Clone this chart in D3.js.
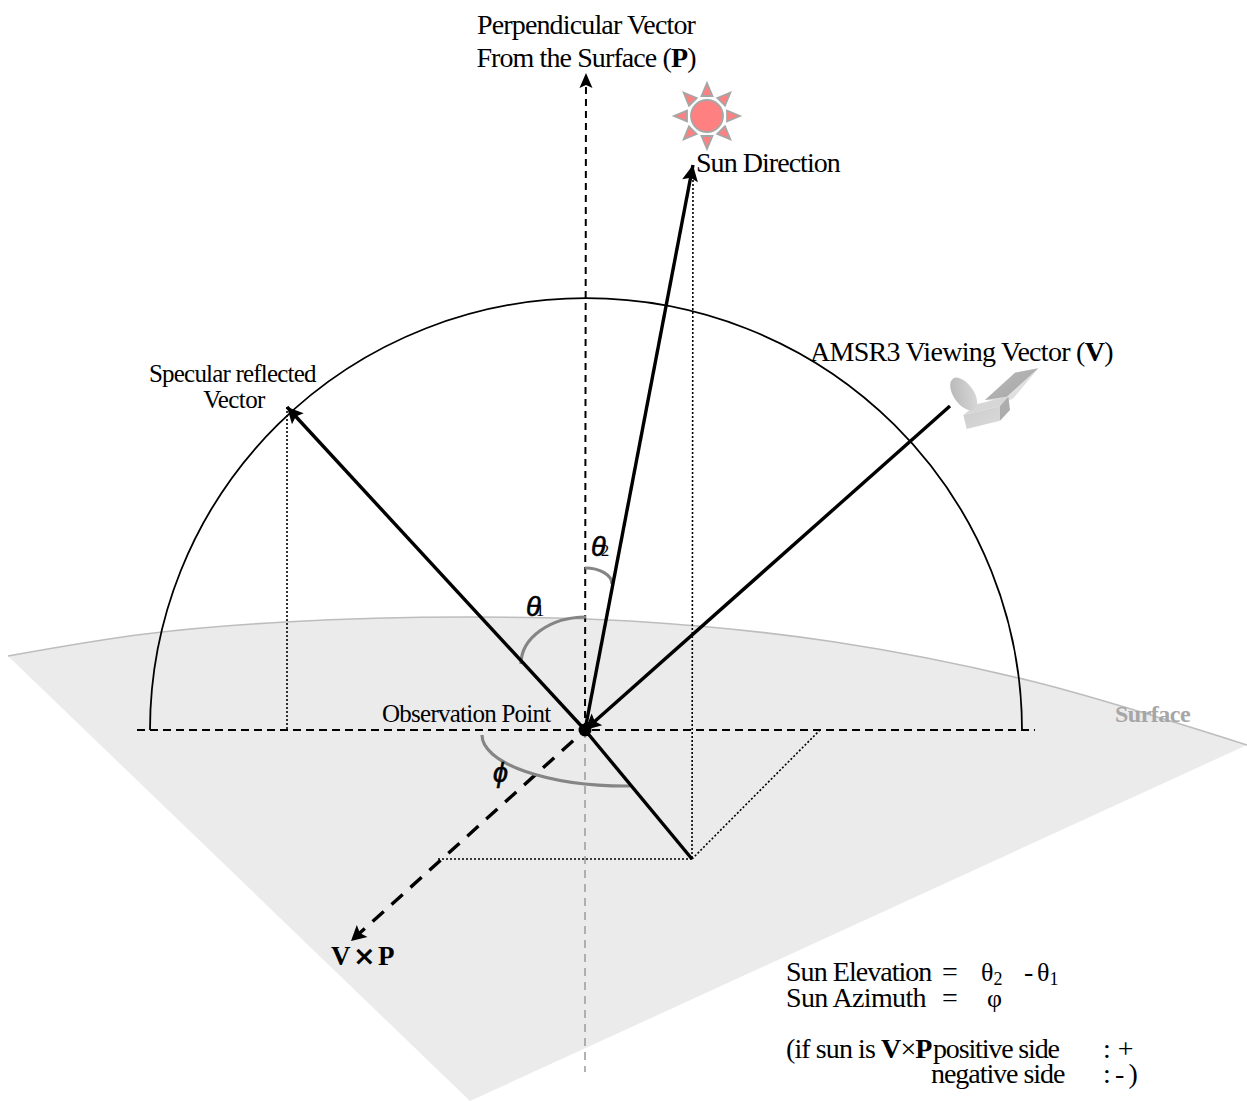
<!DOCTYPE html>
<html lang="en">
<head>
<meta charset="UTF-8">
<title>Sun Elevation and Azimuth Geometry</title>
<script src="https://d3js.org/d3.v7.min.js"></script>
<style>
  html, body { margin: 0; padding: 0; background: #fff; }
  svg { display: block; }
  text { font-family: "Liberation Serif", serif; fill: #000; }
</style>
</head>
<body>
<div id="chart"></div>
<script>
// all diagram values are offsets from the observation point, y up
const surfaceTop = [[-577, 74], [-440, 96], [-300, 108], [-115, 113], [60, 108], [250, 88], [450, 48], [662, -15]];
const surfaceBottom = [[662, -15], [-115, -371], [-577, 74]];
const domeEnds = [[-435, 0], [437, 0]];
const domeRadii = [436, 432];
const solidVectors = [
  { from: [0, 0], to: [108, 565], arrow: true },
  { from: [0, 0], to: [-298, 323], arrow: true },
  { from: [365, 324], to: [0, 0], arrow: true },
  { from: [0, 0], to: [107, -129], arrow: false }
];
const dashedVectors = [
  { from: [0, 0], to: [1, 657], width: 2, color: "#000", dash: "7 5", offset: 0, arrow: true },
  { from: [0, 0], to: [-234, -211], width: 3.4, color: "#000", dash: "15 10.5", offset: -16, arrow: true },
  { from: [0, 0], to: [0, -342], width: 1.6, color: "#a0a0a0", dash: "8 6", offset: 0, arrow: false },
  { from: [-448, 0], to: [450, 0], width: 2, color: "#000", dash: "8 5", offset: 0, arrow: false }
];
const dottedLines = [
  [[108, 550], [107, -129]],
  [[-298, 323], [-298, 0]],
  [[107, -129], [235, 0]],
  [[-147, -129], [107, -129]]
];
const angleArcs = [
  { from: [0, 162], to: [27, 146], rx: 27, ry: 16, sweep: 1 },
  { from: [1, 113], to: [-64, 66], rx: 65, ry: 47, sweep: 0 },
  { from: [-103, -5], to: [45, -56], rx: 145, ry: 51, sweep: 0 }
];
const sunRays = [0, 45, 90, 135, 180, 225, 270, 315];
const labels = [
  { text: "Perpendicular Vector", at: [1, 696], size: 28, anchor: "middle", spacing: -0.85 },
  { text: "Sun Direction", at: [111, 558], size: 28, anchor: "start", spacing: -0.96 },
  { text: "Specular reflected", at: [-436, 348], size: 25, anchor: "start", spacing: -0.8 },
  { text: "Vector", at: [-351, 322], size: 25, anchor: "middle", spacing: -0.6 },
  { text: "Observation Point", at: [-203, 8], size: 25, anchor: "start", spacing: -0.75 },
  { text: "Sun Elevation", at: [201, -251], size: 28, anchor: "start", spacing: -0.96 },
  { text: "=", at: [357, -251], size: 28, anchor: "start", spacing: 0 },
  { text: "Sun Azimuth", at: [201, -277], size: 28, anchor: "start", spacing: -0.64 },
  { text: "=", at: [357, -277], size: 28, anchor: "start", spacing: 0 },
  { text: "φ", at: [402, -277], size: 26, anchor: "start", spacing: 0 },
  { text: "negative side", at: [346, -353], size: 28, anchor: "start", spacing: -1.05 },
  { text: ": -  )", at: [518, -353], size: 28, anchor: "start", spacing: -1.4 },
  { text: "positive side", at: [348, -328], size: 28, anchor: "start", spacing: -1.15 },
  { text: ": +", at: [518, -328], size: 28, anchor: "start", spacing: 0 }
];
const panelWidth = 1247, panelHeight = 1101;

const x = d3.scaleLinear().domain([-585, 662]).range([0, panelWidth]);
const y = d3.scaleLinear().domain([730, -371]).range([0, panelHeight]);
const pt = d => [x(d[0]), y(d[1])];

const svg = d3.select("#chart").append("svg")
  .attr("width", panelWidth).attr("height", panelHeight);

const defs = svg.append("defs");
function gradient(id, c1, c2) {
  const g = defs.append("linearGradient").attr("id", id)
    .attr("x1", 0).attr("y1", 0).attr("x2", 1).attr("y2", 1);
  g.append("stop").attr("offset", 0).attr("stop-color", c1);
  g.append("stop").attr("offset", 1).attr("stop-color", c2);
}
gradient("dish", "#b4b4b4", "#dcdcdc");
gradient("body", "#cccccc", "#dadada");
gradient("panel", "#bcbcbc", "#a4a4a4");

// surface
const curve = d3.line().x(d => x(d[0])).y(d => y(d[1])).curve(d3.curveCatmullRom);
svg.append("path")
  .attr("d", curve(surfaceTop) + surfaceBottom.slice(1).map(d => "L" + pt(d).join(",")).join("") + "Z")
  .attr("fill", "#ebebeb");
svg.append("path").attr("d", curve(surfaceTop))
  .attr("fill", "none").attr("stroke", "#bdbdbd").attr("stroke-width", 1.6);

// hemisphere
const [d0, d1] = domeEnds.map(pt);
svg.append("path")
  .attr("d", `M${d0} A${domeRadii[0]},${domeRadii[1]} 0 0 1 ${d1}`)
  .attr("fill", "none").attr("stroke", "#000").attr("stroke-width", 1.8);

// dotted construction lines
svg.selectAll(".dotted").data(dottedLines).enter().append("line")
  .attr("x1", d => x(d[0][0])).attr("y1", d => y(d[0][1]))
  .attr("x2", d => x(d[1][0])).attr("y2", d => y(d[1][1]))
  .attr("stroke", "#000").attr("stroke-width", 1.6).attr("stroke-dasharray", "2 2");

function arrowHead(v, len, half) {
  const a = pt(v.from), b = pt(v.to);
  const dx = b[0] - a[0], dy = b[1] - a[1], n = Math.hypot(dx, dy);
  const ux = dx / n, uy = dy / n;
  const bx = b[0] - ux * len, by = b[1] - uy * len;
  return [b, [bx - uy * half, by + ux * half], [bx + ux * 3, by + uy * 3], [bx + uy * half, by - ux * half]].join(" ");
}

// dashed vectors
svg.selectAll(".dashed").data(dashedVectors).enter().append("line")
  .attr("x1", d => x(d.from[0])).attr("y1", d => y(d.from[1]))
  .attr("x2", d => x(d.to[0])).attr("y2", d => y(d.to[1]))
  .attr("stroke", d => d.color).attr("stroke-width", d => d.width)
  .attr("stroke-dasharray", d => d.dash).attr("stroke-dashoffset", d => d.offset);
svg.selectAll(".dashedHead").data(dashedVectors.filter(d => d.arrow)).enter().append("polygon")
  .attr("points", d => arrowHead(d, 15, d.width > 3 ? 8 : 6.5)).attr("fill", "#000");

// angle arcs
svg.selectAll(".arc").data(angleArcs).enter().append("path")
  .attr("d", d => `M${pt(d.from)} A${d.rx},${d.ry} 0 0 ${d.sweep} ${pt(d.to)}`)
  .attr("fill", "none").attr("stroke", "#858585").attr("stroke-width", 3.2);

// solid vectors
svg.selectAll(".solid").data(solidVectors).enter().append("line")
  .attr("x1", d => x(d.from[0])).attr("y1", d => y(d.from[1]))
  .attr("x2", d => x(d.to[0])).attr("y2", d => y(d.to[1]))
  .attr("stroke", "#000").attr("stroke-width", 3.4);
svg.selectAll(".solidHead").data(solidVectors.filter(d => d.arrow)).enter().append("polygon")
  .attr("points", d => arrowHead(d, 16, 8)).attr("fill", "#000");
svg.append("circle").attr("cx", x(0)).attr("cy", y(0)).attr("r", 6.5).attr("fill", "#000");

// sun
const sun = svg.append("g").attr("transform", `translate(${x(122)},${y(614)})`);
sun.selectAll("path").data(sunRays).enter().append("path")
  .attr("d", "M-5.5,-20 L5.5,-20 L0,-33 Z")
  .attr("transform", d => `rotate(${d})`)
  .attr("fill", "#ff8080").attr("stroke", "#a6a6a6").attr("stroke-width", 1.8);
sun.append("circle").attr("r", 16).attr("fill", "#ff8080")
  .attr("stroke", "#a6a6a6").attr("stroke-width", 1.8);

// satellite, shapes in thirds of a pixel
const sat = svg.append("g").attr("transform", `translate(${x(315)},${y(400)}) scale(${1 / 3})`);
sat.append("path").attr("d", "M255,210 L345,128 L415,115 L340,205 L320,215 Z").attr("fill", "#e0e0e0");
sat.append("path").attr("d", "M255,210 L345,128 L415,115 L320,200 Z").attr("fill", "url(#panel)");
sat.append("path").attr("d", "M190,255 L232,222 L325,200 L300,228 Z").attr("fill", "#d6d6d6");
sat.append("path").attr("d", "M190,255 L300,228 L300,272 L200,297 Z").attr("fill", "url(#body)");
sat.append("path").attr("d", "M300,228 L325,200 L330,240 L300,272 Z").attr("fill", "#adadad");
sat.append("ellipse").attr("rx", 30).attr("ry", 56)
  .attr("transform", "translate(191,192) rotate(-35)").attr("fill", "url(#dish)");

// plain labels
svg.selectAll(".lab").data(labels).enter().append("text")
  .attr("x", d => x(d.at[0])).attr("y", d => y(d.at[1]))
  .attr("text-anchor", d => d.anchor)
  .attr("font-size", d => d.size).attr("letter-spacing", d => d.spacing)
  .text(d => d.text);

// mixed labels
function mixed(at, size, spacing, parts, anchor) {
  const t = svg.append("text").attr("x", x(at[0])).attr("y", y(at[1]))
    .attr("font-size", size).attr("letter-spacing", spacing)
    .attr("text-anchor", anchor || "start");
  parts.forEach(p => t.append("tspan").attr("font-weight", p[1] ? "bold" : null).text(p[0]));
}
mixed([1, 663], 28, -0.9, [["From the Surface (", 0], ["P", 1], [")", 0]], "middle");
mixed([225, 369], 28, -0.72, [["AMSR3 Viewing Vector (", 0], ["V", 1], [")", 0]]);
mixed([201, -328], 28, -0.9, [["(if sun is ", 0], ["V", 1], ["×", 0], ["P", 1]]);

// V x P
svg.append("text").attr("x", x(-254)).attr("y", y(-235)).attr("font-size", 27)
  .attr("font-weight", "bold").text("V");
svg.append("text").attr("x", x(-232)).attr("y", y(-235)).attr("font-size", 27)
  .attr("font-weight", "bold").style("font-family", "DejaVu Sans").text("×");
svg.append("text").attr("x", x(-207)).attr("y", y(-235)).attr("font-size", 27)
  .attr("font-weight", "bold").text("P");

// surface label
svg.append("text").attr("x", x(530)).attr("y", y(8)).attr("font-size", 24)
  .attr("font-weight", "bold").style("fill", "#a6a6a6").attr("letter-spacing", -0.5).text("Surface");

// angle symbols
const symbols = [
  { s: "θ", sub: "2", at: [6, 174] },
  { s: "θ", sub: "1", at: [-59, 114] },
  { s: "ϕ", sub: "", at: [-92, -52] }
];
symbols.forEach(d => {
  const t = svg.append("text").attr("x", x(d.at[0])).attr("y", y(d.at[1]));
  t.append("tspan").attr("font-size", 27).style("font-family", "Liberation Sans")
    .attr("font-style", "italic").attr("stroke", "#000").attr("stroke-width", 0.6).text(d.s);
  if (d.sub) t.append("tspan").attr("font-size", 17).attr("dx", -5).text(d.sub);
});

// formula symbols
function formula(at, base, sub) {
  const t = svg.append("text").attr("x", x(at[0])).attr("y", y(at[1])).attr("font-size", 26);
  t.append("tspan").text(base);
  t.append("tspan").attr("font-size", 18).attr("dy", 4).text(sub);
}
formula([396, -251], "θ", "2");
svg.append("text").attr("x", x(439)).attr("y", y(-251)).attr("font-size", 28).text("-");
formula([452, -251], "θ", "1");
</script>
</body>
</html>
